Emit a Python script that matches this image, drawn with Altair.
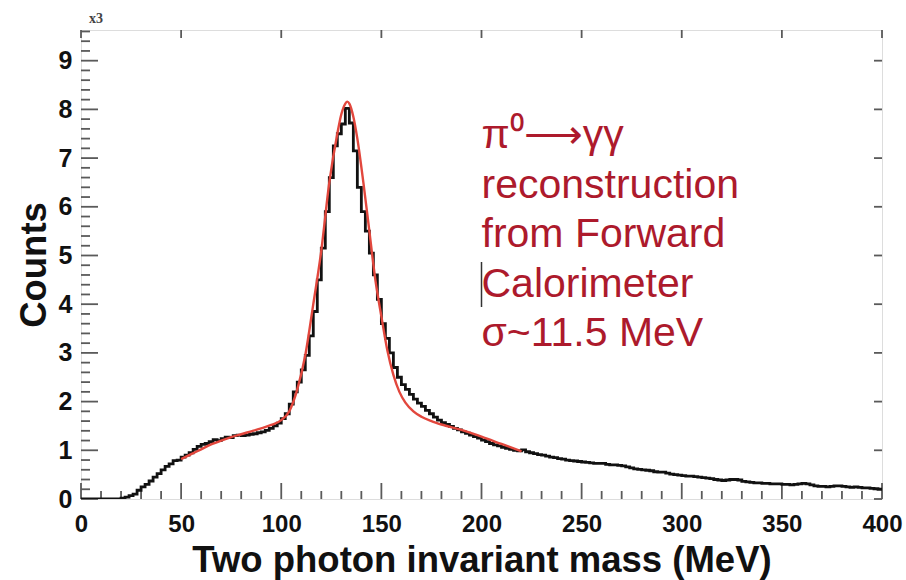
import altair as alt
import pandas as pd

# ---------------- data (counts in units of 10^3) ----------------
bin_width = 2  # MeV
bin_lo = list(range(0, 400, bin_width))
counts = [
    0, 0, 0, 0, 0, 0, 0, 0, 0, 0,
    0.02, 0.04, 0.07, 0.10, 0.18, 0.25, 0.30, 0.37, 0.45, 0.52,
    0.60, 0.67, 0.72, 0.79, 0.80, 0.86, 0.90, 0.95, 1.02, 1.08,
    1.12, 1.14, 1.18, 1.22, 1.20, 1.24, 1.27, 1.26, 1.30, 1.31,
    1.30, 1.31, 1.33, 1.34, 1.36, 1.38, 1.41, 1.45, 1.50, 1.56,
    1.65, 1.75, 1.95, 2.20, 2.40, 2.65, 2.95, 3.35, 3.85, 4.50,
    5.15, 5.90, 6.60, 7.25, 7.50, 7.70, 8.02, 7.72, 7.15, 6.40,
    5.90, 5.50, 5.05, 4.60, 4.10, 3.60, 3.30, 3.00, 2.70, 2.50,
    2.35, 2.25, 2.15, 2.05, 1.97, 1.90, 1.82, 1.75, 1.68, 1.62,
    1.57, 1.53, 1.49, 1.45, 1.42, 1.38, 1.35, 1.31, 1.28, 1.25,
    1.21, 1.18, 1.14, 1.11, 1.09, 1.06, 1.04, 1.02, 1.00, 0.99,
    1.01, 0.97, 0.95, 0.93, 0.91, 0.90, 0.88, 0.86, 0.85, 0.83,
    0.82, 0.80, 0.79, 0.78, 0.77, 0.76, 0.75, 0.74, 0.73, 0.73,
    0.73, 0.71, 0.70, 0.70, 0.69, 0.68, 0.66, 0.64, 0.62, 0.61,
    0.60, 0.59, 0.58, 0.56, 0.55, 0.55, 0.53, 0.51, 0.50, 0.49,
    0.48, 0.47, 0.47, 0.46, 0.45, 0.44, 0.43, 0.42, 0.40, 0.39,
    0.38, 0.39, 0.40, 0.40, 0.39, 0.36, 0.35, 0.34, 0.33, 0.33,
    0.32, 0.32, 0.31, 0.31, 0.31, 0.30, 0.30, 0.29, 0.30, 0.31,
    0.32, 0.31, 0.29, 0.27, 0.26, 0.26, 0.25, 0.26, 0.27, 0.27,
    0.26, 0.25, 0.24, 0.25, 0.24, 0.23, 0.23, 0.22, 0.21, 0.20,
]

fit_x = [50, 55, 60, 65, 70, 75, 80, 85, 90, 95,
         100, 104, 108, 112, 116, 120, 124, 128, 130, 132,
         133, 134, 136, 138, 141, 144, 147, 150, 153, 156,
         159, 162, 166, 170, 175, 180, 190, 200, 210, 220]
fit_y = [0.82, 0.92, 1.02, 1.12, 1.20, 1.27, 1.33, 1.39, 1.45, 1.52,
         1.62, 1.80, 2.25, 2.95, 4.00, 5.10, 6.50, 7.50, 7.90, 8.12,
         8.16, 8.12, 7.85, 7.40, 6.50, 5.50, 4.50, 3.75, 3.05, 2.55,
         2.20, 1.98, 1.80, 1.69, 1.60, 1.53, 1.42, 1.28, 1.13, 0.98]

x_major = [0, 50, 100, 150, 200, 250, 300, 350, 400]
x_minor = [v for v in range(0, 401, 10) if v % 50 != 0]
y_major = [0, 1, 2, 3, 4, 5, 6, 7, 8, 9]
y_minor = [round(i * 0.2, 1) for i in range(0, 49) if i % 5 != 0]

annotation = ["π⁰⟶γγ", "reconstruction", "from Forward", "Calorimeter", "σ~11.5 MeV"]
ann_x, ann_y = 200, 7.2

x_title = "Two photon invariant mass (MeV)"
y_title = "Counts"
exp_label = "x3"

# ---------------- chart ----------------
W, H = 801, 469
FONT = "Liberation Sans"
FRAME = "#5a5a5a"

xs = alt.Scale(domain=[0, 400], nice=False, zero=False)
ys = alt.Scale(domain=[0, 9.63], nice=False, zero=False)

hist_df = pd.DataFrame({"m": bin_lo + [400], "c": counts + [counts[-1]]})
fit_df = pd.DataFrame({"m": fit_x, "c": fit_y})

base_axes = alt.Chart(pd.DataFrame({"m": [0], "c": [0]})).mark_point(opacity=0).encode(
    x=alt.X("m:Q", scale=xs, title=x_title,
            axis=alt.Axis(values=x_major, ticks=False, domain=False, grid=False,
                          labelFlush=False, labelOverlap=False,
                          labelFont=FONT, labelFontSize=24, labelFontWeight="bold",
                          labelColor="#111", labelPadding=13,
                          titleFont=FONT, titleFontSize=36.5, titleFontWeight="bold",
                          titleColor="#111", titlePadding=6)),
    y=alt.Y("c:Q", scale=ys, title=y_title,
            axis=alt.Axis(values=y_major, ticks=False, domain=False, grid=False,
                          labelFlush=False, labelOverlap=False,
                          labelFont=FONT, labelFontSize=25, labelFontWeight="bold",
                          labelColor="#111", labelPadding=9,
                          titleFont=FONT, titleFontSize=36.5, titleFontWeight="bold",
                          titleColor="#111", titlePadding=5)),
)

hist = alt.Chart(hist_df).mark_line(
    interpolate="step-after", color="#111", strokeWidth=2.8, clip=True
).encode(x=alt.X("m:Q", scale=xs), y=alt.Y("c:Q", scale=ys))

fit = alt.Chart(fit_df).mark_line(
    interpolate="monotone", color="#e2473d", strokeWidth=2.4, clip=True
).encode(x=alt.X("m:Q", scale=xs), y=alt.Y("c:Q", scale=ys))

def xticks(vals, length, top=True):
    df = pd.DataFrame({"m": vals})
    layers = [alt.Chart(df).mark_rule(color=FRAME, strokeWidth=1.8).encode(
        x=alt.X("m:Q", scale=xs), y=alt.value(H), y2=alt.value(H - length))]
    if top:
        layers.append(alt.Chart(df).mark_rule(color=FRAME, strokeWidth=1.8).encode(
            x=alt.X("m:Q", scale=xs), y=alt.value(0), y2=alt.value(8)))
    return layers

def yticks(vals, length, right=True):
    df = pd.DataFrame({"c": vals})
    layers = [alt.Chart(df).mark_rule(color=FRAME, strokeWidth=1.8).encode(
        y=alt.Y("c:Q", scale=ys), x=alt.value(0), x2=alt.value(length))]
    if right:
        layers.append(alt.Chart(df).mark_rule(color=FRAME, strokeWidth=1.8).encode(
            y=alt.Y("c:Q", scale=ys), x=alt.value(W), x2=alt.value(W - 8)))
    return layers

tick_layers = (xticks(x_major, 16) + xticks(x_minor, 8, top=False)
               + yticks(y_major, 17) + yticks(y_minor, 9, right=False))

ann = alt.Chart(pd.DataFrame({"m": [ann_x], "c": [ann_y], "t": [annotation]})).mark_text(
    align="left", baseline="alphabetic", font=FONT, fontSize=41,
    lineHeight=49.5, color="#ad1a2c"
).encode(x=alt.X("m:Q", scale=xs), y=alt.Y("c:Q", scale=ys), text="t")

cursor = alt.Chart(pd.DataFrame({"m": [ann_x]})).mark_rule(
    color="#333", strokeWidth=1.5
).encode(x=alt.X("m:Q", scale=xs), y=alt.value(232), y2=alt.value(277))

exp_text = alt.Chart(pd.DataFrame({"t": [exp_label]})).mark_text(
    align="left", baseline="alphabetic", font="Liberation Serif",
    fontSize=14, fontWeight="bold", color="#444"
).encode(x=alt.value(8), y=alt.value(-7), text="t")

chart = alt.layer(
    base_axes, *tick_layers, hist, fit, ann, cursor, exp_text
).properties(
    width=W, height=H,
    autosize=alt.AutoSizeParams(type="none"),
    padding={"left": 81, "top": 30, "right": 24, "bottom": 81},
).configure_view(
    stroke=FRAME, strokeWidth=2
).configure(background="white")

chart.save("out.html", embed_options={"renderer": "svg", "actions": False})
